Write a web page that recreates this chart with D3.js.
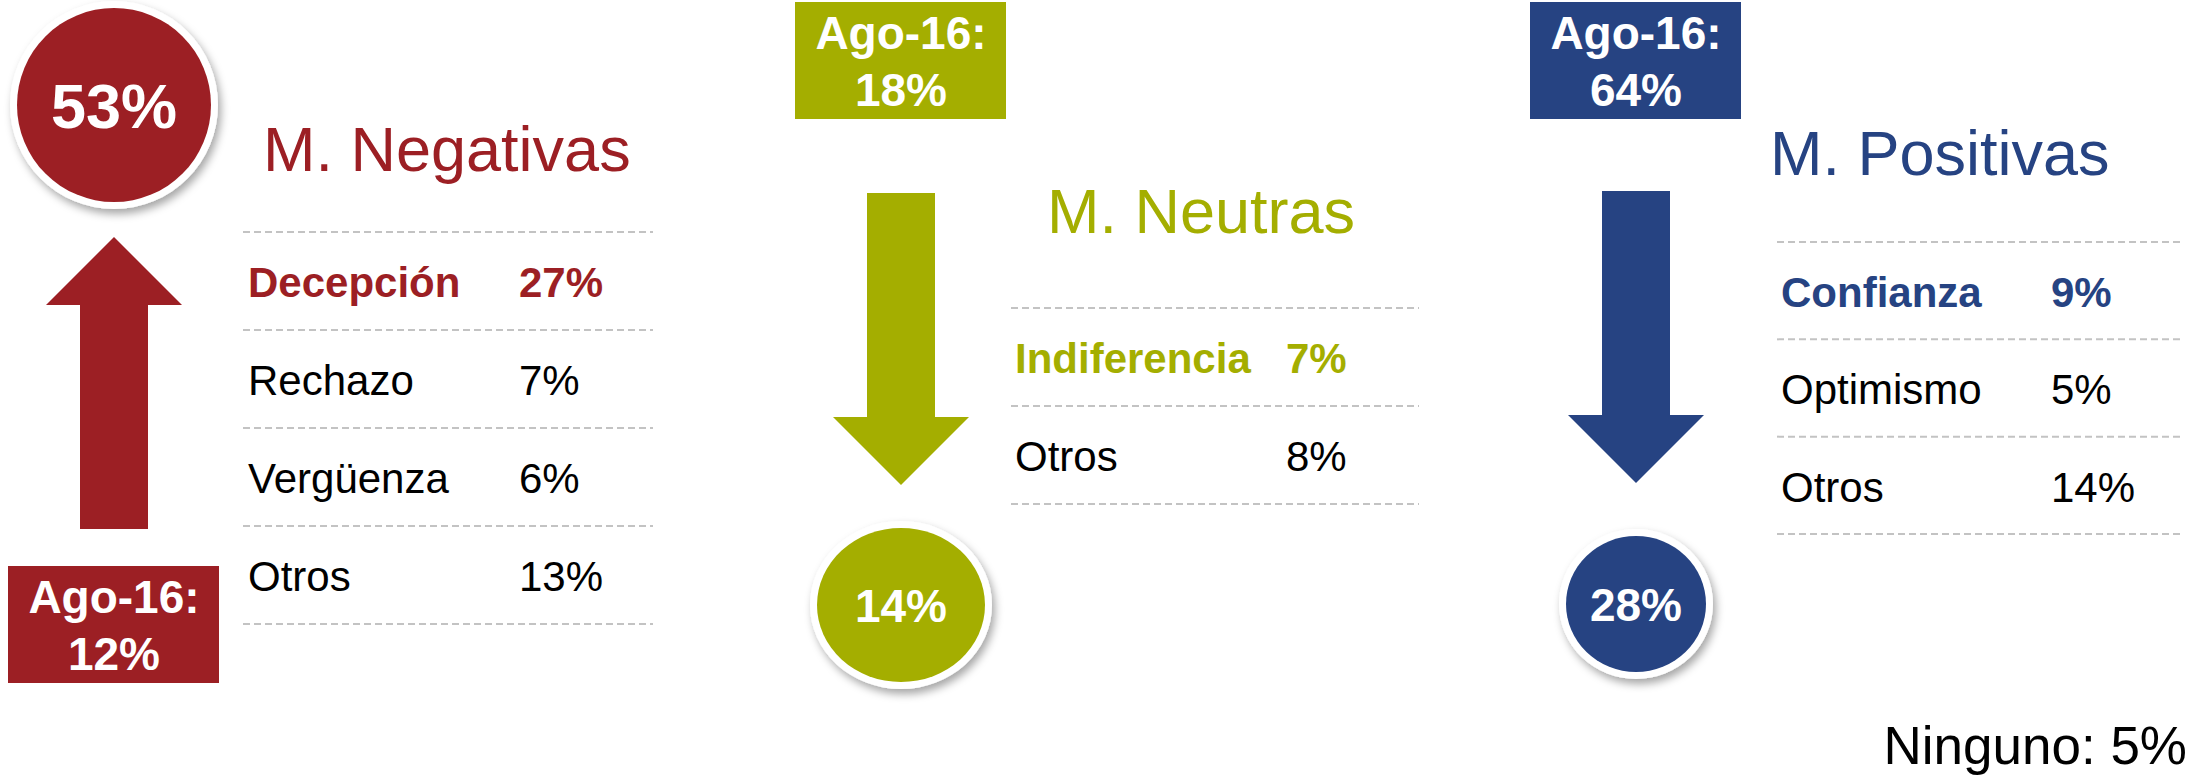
<!DOCTYPE html>
<html>
<head>
<meta charset="utf-8">
<script src="https://cdn.jsdelivr.net/npm/d3@7"></script>
<style>
  html, body { margin: 0; padding: 0; background: #fff; }
  svg { display: block; }
</style>
</head>
<body>
<div id="chart"></div>
<script>
// data
const groups = ["M. Negativas", "M. Neutras", "M. Positivas"];
const currentPct = [53, 14, 28];
const previousPct = [12, 18, 64];
const previousLabel = "Ago-16:";
const emotionLabels = [
  ["Decepción", "Rechazo", "Vergüenza", "Otros"],
  ["Indiferencia", "Otros"],
  ["Confianza", "Optimismo", "Otros"]
];
const emotionPct = [
  [27, 7, 6, 13],
  [7, 8],
  [9, 5, 14]
];
const nonePct = 5;
const noneLabel = "Ninguno";

// layout (per panel)
const colors = ["#9c1f24", "#a4ae00", "#264382"];
const panels = [
  { axisX: 114, circleY: 105, rx: 97, ry: 97, circleFont: 63, boxY: 566,
    arrowTop: 237, titleX: 263, titleY: 171,
    tableX: [243, 653], tableY: [232, 624], labelX: 248, valueX: 519 },
  { axisX: 901, circleY: 605, rx: 84, ry: 77, circleFont: 46, boxY: 2,
    arrowTop: 193, titleX: 1047, titleY: 233,
    tableX: [1011, 1419], tableY: [308, 504], labelX: 1015, valueX: 1286 },
  { axisX: 1636, circleY: 604, rx: 70, ry: 68, circleFont: 46, boxY: 2,
    arrowTop: 191, titleX: 1770, titleY: 175,
    tableX: [1777, 2183], tableY: [242, 534], labelX: 1781, valueX: 2051 }
];
const W = 2204, H = 780;
const font = "'Liberation Sans', Arial, Helvetica, sans-serif";
const boxW = 211, boxH = 117;
const shaftW = 68, headW = 136, headLen = 68, arrowLen = 292;

const svg = d3.select("#chart")
  .append("svg")
  .attr("width", W)
  .attr("height", H)
  .style("font-family", font);

svg.append("rect").attr("width", W).attr("height", H).attr("fill", "#fff");

const defs = svg.append("defs");
defs.append("filter")
  .attr("id", "shadow")
  .attr("x", "-30%").attr("y", "-30%")
  .attr("width", "160%").attr("height", "160%")
  .append("feDropShadow")
  .attr("dx", 3).attr("dy", 5)
  .attr("stdDeviation", 4)
  .attr("flood-color", "#000")
  .attr("flood-opacity", 0.35);

const pct = d => d + "%";

groups.forEach((name, i) => {
  const p = panels[i];
  const col = colors[i];
  const up = currentPct[i] > previousPct[i];
  const g = svg.append("g");

  // arrow, pointing from the old value towards the current one
  const y = d3.scaleLinear().domain([0, 1]).range(up ? [p.arrowTop + arrowLen, p.arrowTop] : [p.arrowTop, p.arrowTop + arrowLen]);
  const headBase = y(1 - headLen / arrowLen);
  const cx = p.axisX;
  const pts = [
    [cx - shaftW / 2, y(0)], [cx - shaftW / 2, headBase], [cx - headW / 2, headBase],
    [cx, y(1)], [cx + headW / 2, headBase], [cx + shaftW / 2, headBase], [cx + shaftW / 2, y(0)]
  ];
  g.append("path")
    .attr("d", d3.line()(pts) + "Z")
    .attr("fill", col);

  // previous-value box
  g.append("rect")
    .attr("x", cx - boxW / 2 - 0.5)
    .attr("y", p.boxY)
    .attr("width", boxW)
    .attr("height", boxH)
    .attr("fill", col);
  g.append("text")
    .attr("x", cx)
    .attr("text-anchor", "middle")
    .attr("fill", "#fff")
    .attr("font-weight", "bold")
    .attr("font-size", 46)
    .selectAll("tspan")
    .data([previousLabel, pct(previousPct[i])])
    .join("tspan")
    .attr("x", cx)
    .attr("y", (d, k) => p.boxY + 47 + k * 57)
    .text(d => d);

  // current-value circle
  g.append("ellipse")
    .attr("cx", cx).attr("cy", p.circleY)
    .attr("rx", p.rx + 7).attr("ry", p.ry + 7)
    .attr("fill", "#fff")
    .attr("filter", "url(#shadow)");
  g.append("ellipse")
    .attr("cx", cx).attr("cy", p.circleY)
    .attr("rx", p.rx).attr("ry", p.ry)
    .attr("fill", col);
  g.append("text")
    .attr("x", cx)
    .attr("y", p.circleY + p.circleFont * 0.36)
    .attr("text-anchor", "middle")
    .attr("fill", "#fff")
    .attr("font-weight", "bold")
    .attr("font-size", p.circleFont)
    .text(pct(currentPct[i]));

  // title
  g.append("text")
    .attr("x", p.titleX)
    .attr("y", p.titleY)
    .attr("fill", col)
    .attr("font-size", 63)
    .text(name);

  // table of emotions
  const rows = emotionLabels[i];
  const band = d3.scaleBand().domain(rows).range(p.tableY);
  const lineYs = rows.map(r => band(r)).concat([p.tableY[1]]);
  g.selectAll("line.sep")
    .data(lineYs)
    .join("line")
    .attr("class", "sep")
    .attr("x1", p.tableX[0]).attr("x2", p.tableX[1])
    .attr("y1", d => d).attr("y2", d => d)
    .attr("stroke", "#c3c3c3")
    .attr("stroke-width", 2)
    .attr("stroke-dasharray", "7,4");

  const row = g.selectAll("g.row")
    .data(rows.map((r, k) => ({ label: r, value: emotionPct[i][k], first: k === 0 })))
    .join("g")
    .attr("class", "row")
    .attr("transform", d => `translate(0,${band(d.label) + 65})`)
    .attr("font-size", 42)
    .attr("fill", d => d.first ? col : "#000")
    .attr("font-weight", d => d.first ? "bold" : "normal");
  row.append("text").attr("x", p.labelX).text(d => d.label);
  row.append("text").attr("x", p.valueX).text(d => pct(d.value));
});

svg.append("text")
  .attr("x", 2187)
  .attr("y", 764)
  .attr("text-anchor", "end")
  .attr("font-size", 53)
  .attr("fill", "#000")
  .text(`${noneLabel}: ${pct(nonePct)}`);
</script>
</body>
</html>
